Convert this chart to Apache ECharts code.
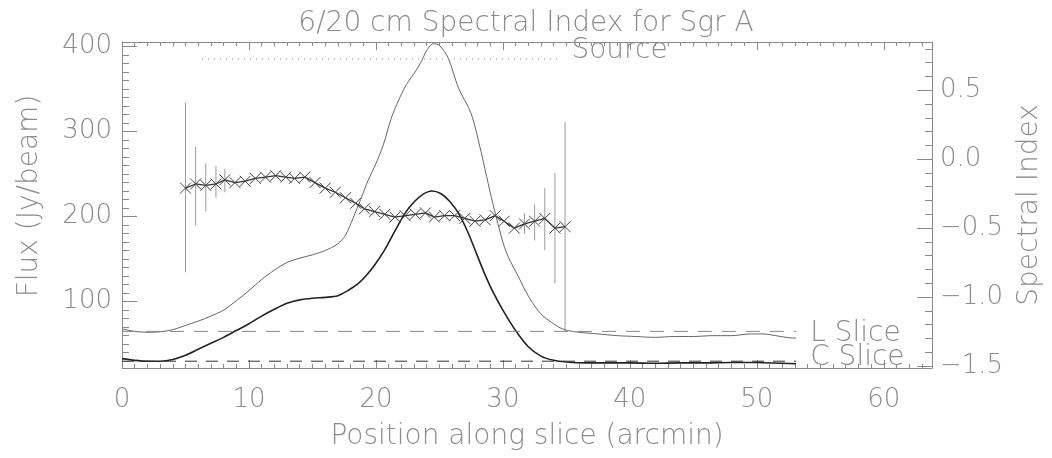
<!DOCTYPE html>
<html>
<head>
<meta charset="utf-8">
<title>6/20 cm Spectral Index for Sgr A</title>
<script src="https://cdn.jsdelivr.net/npm/echarts@6.0.0/dist/echarts.min.js"></script>
<style>
  html, body { margin: 0; padding: 0; background: #fff; }
  #chart { width: 1052px; height: 458px; }
</style>
</head>
<body>
<div id="chart"></div>
<script>
// 20 cm (L band) slice, flux in Jy/beam
const lSliceX = [0, 1, 2, 3, 4, 5, 6, 7, 8, 9, 10, 11, 12, 13, 14, 15, 16, 17, 17.6, 18.2, 18.8, 19.4, 20, 20.6, 21.2, 21.8, 22.4, 23, 23.5, 24, 24.5, 25, 25.7, 26.5, 27.5, 28.3, 28.6, 29.1, 29.6, 30.1, 30.6, 31.2, 31.8, 32.5, 33.1, 33.8, 34.4, 35.1, 36, 37.5, 39, 40.5, 42, 43.5, 45, 46.5, 48, 49.5, 50.5, 51.5, 52.3, 53.1]
const lSliceFlux = [68, 65, 64, 64.5, 67, 72, 77, 83, 90, 101, 113, 126, 137, 146, 151, 155, 160, 168, 178, 198, 220, 243, 262, 285, 315, 337, 355, 368, 380, 395, 403, 401, 386, 351, 321, 275, 255, 222, 192, 165, 147, 130, 112, 95, 84, 76, 70, 66, 64, 62, 60, 59, 58, 59, 59, 60, 60, 62, 62, 60, 58, 57]

// 6 cm (C band) slice
const cSliceX = [0, 1, 2, 3, 4, 5, 6, 7, 8, 9, 10, 11, 12, 13, 14, 15, 16, 17, 17.8, 18.6, 19.2, 19.9, 20.7, 21.5, 22.3, 23, 23.7, 24.4, 25.1, 25.8, 26.5, 27.2, 27.8, 28.5, 29.2, 30, 31, 32, 33, 34, 35, 36.5, 38, 40, 42, 44, 46, 48, 50, 52, 53.1]
const cSliceFlux = [33, 31, 30, 30, 32, 37, 44, 51, 58, 66, 74, 83, 91, 98, 102, 104, 105, 107, 113, 121, 130, 143, 161, 183, 204, 217, 226, 230, 227, 218, 204, 183, 161, 135, 112, 90, 66, 47, 36, 31, 29, 28, 28, 28, 27.5, 28, 28, 28.5, 28.5, 27.5, 27]

// background levels (dashed) and source region (dotted)
const sliceRange = [0, 53.1]
const lBaseline = 65
const cBaseline = 30
const sourceRange = [6.3, 34.3]
const sourceLevel = 385

// spectral index along the slice
const indexX = [5.0, 5.8, 6.6, 7.4, 8.1, 8.9, 9.7, 10.5, 11.3, 12.1, 12.9, 13.6, 14.4, 15.2, 16.0, 16.8, 17.6, 18.4, 19.1, 19.9, 20.7, 21.5, 22.3, 23.1, 23.9, 24.6, 25.4, 26.2, 27.0, 27.8, 28.6, 29.4, 30.1, 30.9, 31.7, 32.5, 33.3, 34.1, 34.9]
const indexVal = [-0.21, -0.18, -0.19, -0.18, -0.15, -0.17, -0.16, -0.14, -0.13, -0.12, -0.13, -0.14, -0.13, -0.17, -0.21, -0.24, -0.28, -0.32, -0.36, -0.38, -0.40, -0.42, -0.41, -0.40, -0.39, -0.42, -0.41, -0.41, -0.43, -0.45, -0.44, -0.41, -0.45, -0.50, -0.47, -0.45, -0.43, -0.50, -0.49]

// visible error bars
const errX = [5.0, 5.8, 6.6, 7.4, 8.1, 31.7, 32.5, 33.3, 34.1, 34.9]
const errLo = [-0.82, -0.48, -0.38, -0.28, -0.24, -0.54, -0.59, -0.66, -0.90, -1.25]
const errHi = [0.41, 0.09, -0.03, -0.05, -0.07, -0.39, -0.33, -0.21, -0.10, 0.27]

// axis ticks
const xTicks = [0, 10, 20, 30, 40, 50, 60]
const fluxTicks = [100, 200, 300, 400]
const indexTicks = [-1.5, -1.0, -0.5, 0.0, 0.5]

const xRange = [0, 63.8]
const fluxRange = [22, 405]
const indexRange = [-1.515, 0.85]

const axisColor = '#8a8a8a'
const textColor = '#8c8c8c'
const fontFamily = 'DejaVu Sans'
const fontWeight = 200

function minorTicks(lo, hi, step, major) {
  const out = []
  const n0 = Math.ceil(lo / step - 1e-9)
  const n1 = Math.floor(hi / step + 1e-9)
  for (let n = n0; n <= n1; n++) {
    const v = Math.round(n * step * 1000) / 1000
    if (!major.some(m => Math.abs(m - v) < 1e-6)) out.push(v)
  }
  return out
}

function zip(xs, ys) {
  return xs.map((x, i) => [x, ys[i]])
}

// an axis that only draws ticks (minor ticks, mirrored top axis)
function tickAxis(position, range, values, len, showLine) {
  return {
    type: 'value',
    position: position,
    min: range[0],
    max: range[1],
    axisLine: { show: showLine, onZero: false, lineStyle: { color: axisColor, width: 1 } },
    axisTick: { show: true, inside: true, length: len, customValues: values, lineStyle: { color: axisColor } },
    axisLabel: { show: false },
    splitLine: { show: false }
  }
}

const labelFont = { fontFamily: fontFamily, fontWeight: fontWeight, fontSize: 26, color: textColor }
const nameFont = { fontFamily: fontFamily, fontWeight: fontWeight, fontSize: 28, color: textColor }

const chart = echarts.init(document.getElementById('chart'))

chart.setOption({
  animation: false,
  backgroundColor: '#fff',
  textStyle: { fontFamily: fontFamily, color: textColor },
  title: {
    text: '6/20 cm Spectral Index for Sgr A',
    left: 'center',
    top: 5,
    textStyle: Object.assign({}, nameFont)
  },
  grid: { left: 122, right: 115, top: 42, bottom: 90, containLabel: false },
  xAxis: [
    {
      type: 'value',
      position: 'bottom',
      min: xRange[0],
      max: xRange[1],
      name: 'Position along slice (arcmin)',
      nameLocation: 'middle',
      nameGap: 55,
      nameTextStyle: nameFont,
      axisLine: { show: true, onZero: false, lineStyle: { color: axisColor, width: 1 } },
      axisTick: { show: true, inside: true, length: 8, customValues: xTicks, lineStyle: { color: axisColor } },
      axisLabel: Object.assign({ show: true, customValues: xTicks, margin: 19 }, labelFont),
      splitLine: { show: false }
    },
    tickAxis('bottom', xRange, minorTicks(xRange[0], xRange[1], 1, xTicks), 4, false),
    tickAxis('top', xRange, xTicks, 8, true),
    tickAxis('top', xRange, minorTicks(xRange[0], xRange[1], 1, xTicks), 4, false)
  ],
  yAxis: [
    {
      type: 'value',
      position: 'left',
      min: fluxRange[0],
      max: fluxRange[1],
      name: 'Flux (Jy/beam)',
      nameLocation: 'middle',
      nameRotate: 90,
      nameGap: 78,
      nameTextStyle: Object.assign({ padding: [0, 0, 0, 18] }, nameFont),
      axisLine: { show: true, onZero: false, lineStyle: { color: axisColor, width: 1 } },
      axisTick: { show: true, inside: true, length: 15, customValues: fluxTicks, lineStyle: { color: axisColor } },
      axisLabel: Object.assign({ show: true, customValues: fluxTicks, margin: 10 }, labelFont),
      splitLine: { show: false }
    },
    tickAxis('left', fluxRange, minorTicks(fluxRange[0], fluxRange[1], 10, fluxTicks), 7, false),
    {
      type: 'value',
      position: 'right',
      min: indexRange[0],
      max: indexRange[1],
      name: 'Spectral Index',
      nameLocation: 'middle',
      nameRotate: 90,
      nameGap: 84,
      nameTextStyle: nameFont,
      axisLine: { show: true, onZero: false, lineStyle: { color: axisColor, width: 1 } },
      axisTick: { show: true, inside: true, length: 15, customValues: indexTicks, lineStyle: { color: axisColor } },
      axisLabel: Object.assign({
        show: true,
        customValues: indexTicks,
        margin: 8,
        formatter: v => (v < 0 ? '\u2212' : '') + Math.abs(v).toFixed(1)
      }, labelFont),
      splitLine: { show: false }
    },
    tickAxis('right', indexRange, minorTicks(indexRange[0], indexRange[1], 0.1, indexTicks), 7, false)
  ],
  series: [
    {
      name: 'L Slice',
      type: 'line',
      xAxisIndex: 0,
      yAxisIndex: 0,
      data: zip(lSliceX, lSliceFlux),
      showSymbol: false,
      smooth: 0.3,
      lineStyle: { color: '#666', width: 1 }
    },
    {
      name: 'C Slice',
      type: 'line',
      xAxisIndex: 0,
      yAxisIndex: 0,
      data: zip(cSliceX, cSliceFlux),
      showSymbol: false,
      smooth: 0.3,
      lineStyle: { color: '#222', width: 1.6 }
    },
    {
      name: 'L background',
      type: 'line',
      xAxisIndex: 0,
      yAxisIndex: 0,
      data: sliceRange.map(x => [x, lBaseline]),
      showSymbol: false,
      lineStyle: { color: '#888', width: 1, type: [14, 10] },
      endLabel: Object.assign({ show: true, formatter: 'L Slice', distance: 14, offset: [0, 2] }, nameFont)
    },
    {
      name: 'C background',
      type: 'line',
      xAxisIndex: 0,
      yAxisIndex: 0,
      data: sliceRange.map(x => [x, cBaseline]),
      showSymbol: false,
      lineStyle: { color: '#333', width: 1, type: [12, 9] },
      endLabel: Object.assign({ show: true, formatter: 'C Slice', distance: 14, offset: [0, -3] }, nameFont)
    },
    {
      name: 'Source',
      type: 'line',
      xAxisIndex: 0,
      yAxisIndex: 0,
      data: sourceRange.map(x => [x, sourceLevel]),
      showSymbol: false,
      lineStyle: { color: '#888', width: 1, type: [1, 5] },
      endLabel: Object.assign({ show: true, formatter: 'Source', distance: 14, offset: [0, -8] }, nameFont)
    },
    {
      name: 'error',
      type: 'custom',
      xAxisIndex: 0,
      yAxisIndex: 2,
      data: errX.map((x, i) => [x, errLo[i], errHi[i]]),
      renderItem: function(params, api) {
        const lo = api.coord([api.value(0), api.value(1)])
        const hi = api.coord([api.value(0), api.value(2)])
        return {
          type: 'line',
          shape: { x1: lo[0], y1: lo[1], x2: hi[0], y2: hi[1] },
          style: { stroke: '#9a9a9a', lineWidth: 1 }
        }
      },
      z: 1
    },
    {
      name: 'Spectral Index',
      type: 'line',
      xAxisIndex: 0,
      yAxisIndex: 2,
      data: zip(indexX, indexVal),
      symbol: 'path://M0,0L10,10M10,0L0,10',
      symbolSize: 11,
      showAllSymbol: true,
      itemStyle: { color: 'none', borderColor: '#444', borderWidth: 1 },
      lineStyle: { color: '#333', width: 1.3 },
      z: 3
    }
  ]
})
</script>
</body>
</html>
